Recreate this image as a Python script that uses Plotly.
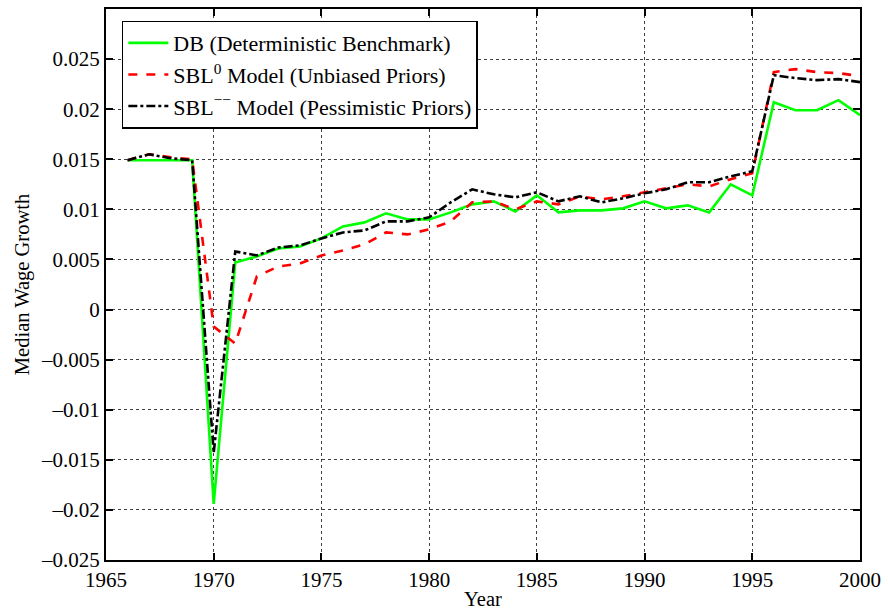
import plotly.graph_objects as go

years = list(range(1966, 2001))

db = [0.0149, 0.0149, 0.0149, 0.0149, -0.0194, 0.0047, 0.0053, 0.0061, 0.0063, 0.0071,
      0.0083, 0.0087, 0.0096, 0.0090, 0.0090, 0.0097, 0.0105, 0.0108, 0.0098, 0.0114,
      0.0097, 0.0099, 0.0099, 0.0101, 0.0108, 0.0101, 0.0104, 0.0097, 0.0125, 0.0114,
      0.0207, 0.0199, 0.0199, 0.0209, 0.0194]

sbl0 = [0.0149, 0.0155, 0.0152, 0.0150, -0.0017, -0.0034, 0.0033, 0.0043, 0.0046, 0.0054,
        0.0059, 0.0065, 0.0077, 0.0075, 0.0080, 0.0088, 0.0107, 0.0108, 0.0100, 0.0108,
        0.0105, 0.0113, 0.0110, 0.0113, 0.0117, 0.0121, 0.0125, 0.0123, 0.0130, 0.0136,
        0.0237, 0.0240, 0.0237, 0.0236, 0.0233]

sblmm = [0.0149, 0.0155, 0.0151, 0.0149, -0.0143, 0.0058, 0.0054, 0.0062, 0.0064, 0.0071,
         0.0077, 0.0079, 0.0088, 0.0088, 0.0092, 0.0107, 0.0120, 0.0115, 0.0112, 0.0117,
         0.0108, 0.0113, 0.0107, 0.0111, 0.0116, 0.0120, 0.0127, 0.0127, 0.0133, 0.0138,
         0.0234, 0.0231, 0.0229, 0.0230, 0.0227]

series_names = ["DB (Deterministic Benchmark)",
                "SBL<sup>0</sup> Model (Unbiased Priors)",
                "SBL<sup>\u2212\u2212</sup> Model (Pessimistic Priors)"]

xtick_vals = [1965, 1970, 1975, 1980, 1985, 1990, 1995, 2000]
ytick_vals = [-0.025, -0.02, -0.015, -0.01, -0.005, 0, 0.005, 0.01, 0.015, 0.02, 0.025]
ytick_text = ["\u20130.025", "\u20130.02", "\u20130.015", "\u20130.01", "\u20130.005", "0",
              "0.005", "0.01", "0.015", "0.02", "0.025"]

FONT = "'Liberation Serif', 'Times New Roman', serif"

fig = go.Figure()
fig.add_trace(go.Scatter(x=years, y=db, mode="lines", name=series_names[0],
                         line=dict(color="#00ff00", width=2.6)))
fig.add_trace(go.Scatter(x=years, y=sbl0, mode="lines", name=series_names[1],
                         line=dict(color="#ff0000", width=2.6, dash="dash")))
fig.add_trace(go.Scatter(x=years, y=sblmm, mode="lines", name=series_names[2],
                         line=dict(color="#000000", width=2.6, dash="dashdot")))

axis_common = dict(
    showline=True, linecolor="black", linewidth=2, mirror="allticks",
    ticks="inside", ticklen=7, tickwidth=2, tickcolor="black",
    showgrid=True, gridcolor="rgba(0,0,0,0.75)", gridwidth=1, griddash="dot",
    zeroline=False, tickfont=dict(family=FONT, size=21, color="black"),
)

fig.update_layout(
    width=888, height=614,
    margin=dict(l=106, r=23, t=7, b=47),
    paper_bgcolor="white", plot_bgcolor="white",
    font=dict(family=FONT, size=20, color="black"),
    xaxis=dict(range=[1965, 2000], tickvals=xtick_vals,
               title=dict(text="Year", font=dict(family=FONT, size=20.5), standoff=0),
               **axis_common),
    yaxis=dict(range=[-0.025, 0.03], tickvals=ytick_vals, ticktext=ytick_text,
               title=dict(text="Median Wage Growth", font=dict(family=FONT, size=20.5), standoff=6),
               **axis_common),
    legend=dict(x=0.021, y=0.979, xanchor="left", yanchor="top",
                bgcolor="white", bordercolor="black", borderwidth=1.5,
                font=dict(family=FONT, size=22, color="black"),
                itemwidth=40),
    showlegend=True,
)

fig.write_html("out.html")
